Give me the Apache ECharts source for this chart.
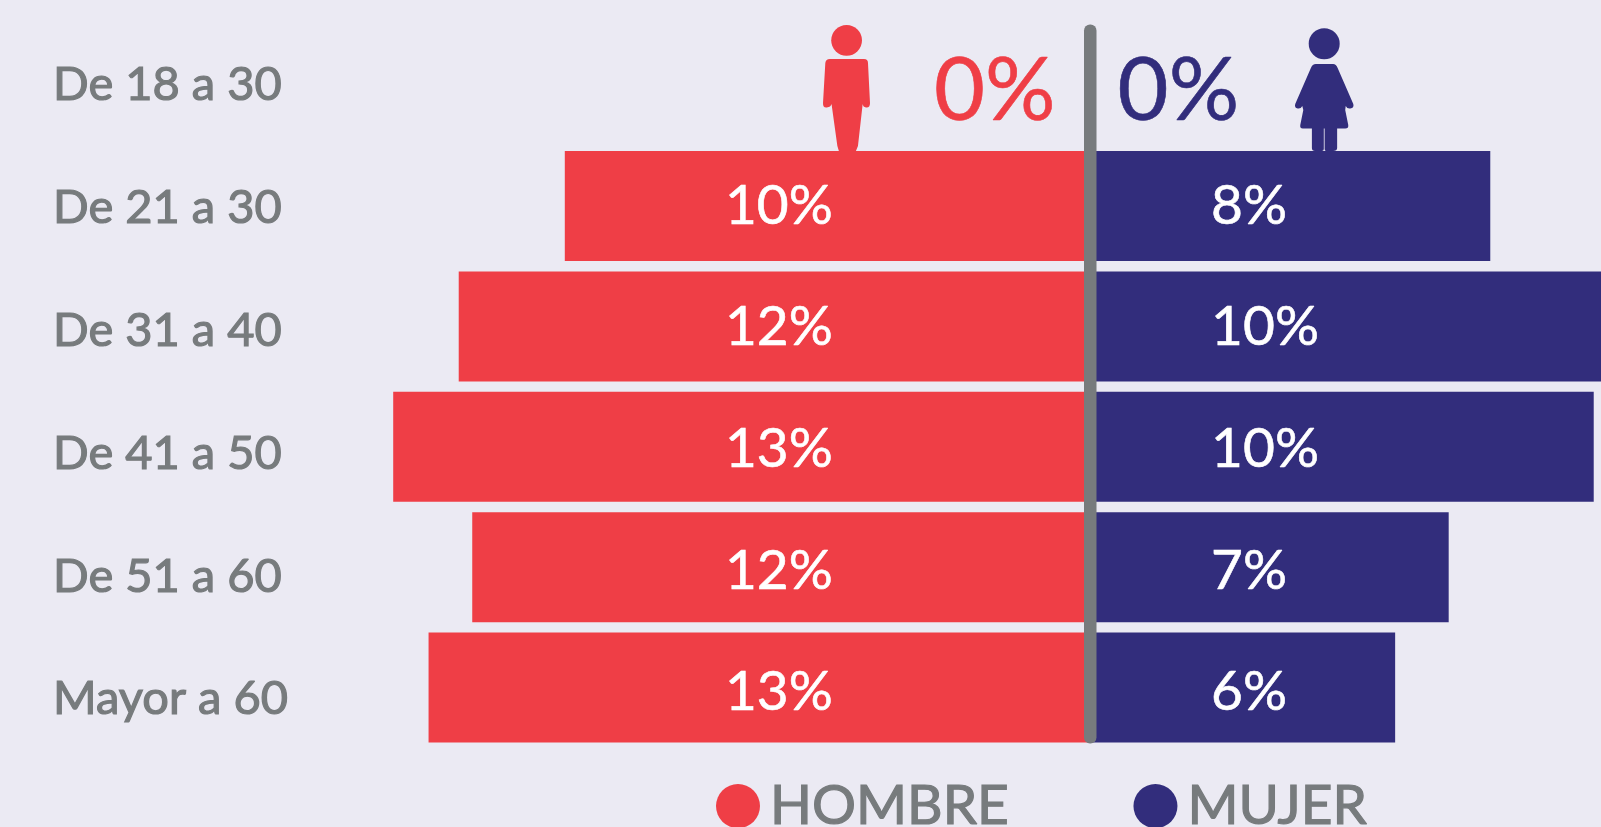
<!DOCTYPE html>
<html>
<head>
<meta charset="utf-8">
<style>
  html, body { margin: 0; padding: 0; background: #ebeaf3; overflow: hidden; }
  #chart { width: 1601px; height: 827px; }
</style>
<script src="https://cdn.jsdelivr.net/npm/echarts@6/dist/echarts.min.js"></script>
</head>
<body>
<div id="chart"></div>
<script>
const categories = ['De 18 a 30', 'De 21 a 30', 'De 31 a 40', 'De 41 a 50', 'De 51 a 60', 'Mayor a 60'];
const hombre = [0, 10.1, 12.14, 13.4, 11.88, 12.72];
const mujer = [0, 7.7, 10.2, 9.69, 6.9, 5.87];

const RED = '#ef3e46';
const NAVY = '#322d7c';
const GREY = '#777b7d';
const FONT = 'Lato';

const MAN_PATH = 'M830 59 L864 59 Q868 59 868 63 L870 103 Q870 108 866 107.5 Q863 107 862.7 104 L858 146 L856 151 L839 151 L837.5 146 L831.7 104 Q831 107 827 107.5 Q823 108 823.2 103 L825.5 63 Q826 59 830 59 Z';
const WOMAN_PATH = 'M1316 64 L1333 64 Q1336 64 1337.5 68 L1353 104 Q1354 108 1350 108.5 Q1347 109 1345.5 106 L1345 110 L1348 125 Q1348.5 128.5 1345 128.5 L1337 128.5 L1337 148 Q1337 151 1333 151 L1326 151 Q1324.6 151 1324.6 149 L1324.6 128.5 L1323.8 128.5 L1323.8 149 Q1323.8 151 1322 151 L1315 151 Q1312 151 1312 148 L1312 128.5 L1303 128.5 Q1300 128.5 1300.5 125 L1303.5 110 L1302.5 106 Q1301 109 1298 108.5 Q1294.5 108 1295.5 104 L1311 68 Q1312.5 64 1316 64 Z';

// the percentages start at a fixed column, not at the bar's centre
const spot = (values, col, topCol, color) => values.map((v, i) => ({
  value: [i === 0 ? topCol : col, i, v],
  label: i === 0
    ? { color, fontSize: 88, align: 'center', offset: [0, 6], textBorderColor: color, textBorderWidth: 0.6 }
    : { offset: [0, -1.5 + 1.3 * i] }
}));

const labelSeries = (idx, values, col, topCol, color) => ({
  type: 'scatter',
  xAxisIndex: idx,
  yAxisIndex: idx,
  symbolSize: 1,
  itemStyle: { color: 'transparent', opacity: 1 },
  silent: true,
  z: 4,
  data: spot(values, col, topCol, color),
  label: {
    show: true,
    position: 'inside',
    align: 'left',
    color: '#fff',
    fontFamily: FONT,
    fontSize: 55,
    textBorderColor: '#fff',
    textBorderWidth: 0.6,
    formatter: (p) => Math.round(p.value[2]) + '%'
  }
});

const iconSeries = (pathData, box, color) => ({
  type: 'custom',
  coordinateSystem: 'none',
  silent: true,
  z: 3,
  data: [0],
  renderItem: () => ({
    type: 'path',
    shape: { pathData, layout: 'cover', x: box[0], y: box[1], width: box[2], height: box[3] },
    style: { fill: color }
  })
});

const chart = echarts.init(document.getElementById('chart'));
chart.setOption({
  backgroundColor: '#ebeaf3',
  animation: false,
  grid: [
    { left: 362, top: 25.4, width: 728, height: 722.4 },
    { left: 1090, top: 25.4, width: 511, height: 722.4 },
    // the row labels run on a slightly wider pitch than the bars
    { left: 53, top: 23.2, width: 1, height: 737.6 }
  ],
  xAxis: [
    { type: 'value', gridIndex: 0, min: 0, max: 14, inverse: true, show: false },
    { type: 'value', gridIndex: 1, min: 0, max: 9.83, show: false },
    { type: 'value', gridIndex: 2, show: false }
  ],
  yAxis: [
    { type: 'category', gridIndex: 0, data: categories, inverse: true, show: false },
    { type: 'category', gridIndex: 1, data: categories, inverse: true, show: false },
    {
      type: 'category', gridIndex: 2, data: categories, inverse: true, position: 'left',
      axisLine: { show: false, onZero: false }, axisTick: { show: false },
      axisLabel: { align: 'left', margin: 0, color: GREY, fontFamily: FONT, fontSize: 47, textBorderColor: GREY, textBorderWidth: 1.2 }
    }
  ],
  legend: {
    data: ['HOMBRE', 'MUJER'],
    left: 716,
    top: 778,
    padding: 0,
    itemWidth: 44,
    itemHeight: 44,
    itemGap: 124,
    icon: 'circle',
    textStyle: { color: GREY, fontFamily: FONT, fontSize: 55, padding: [0, 0, 0, 5], textBorderColor: GREY, textBorderWidth: 1.2 }
  },
  series: [
    { name: 'HOMBRE', type: 'bar', xAxisIndex: 0, yAxisIndex: 0, data: hombre, barWidth: 110, itemStyle: { color: RED } },
    { name: 'MUJER', type: 'bar', xAxisIndex: 1, yAxisIndex: 1, data: mujer, barWidth: 110, itemStyle: { color: NAVY } },
    labelSeries(0, hombre, 7.02, 1.83, RED),
    labelSeries(1, mujer, 2.33, 1.7, NAVY),
    iconSeries(MAN_PATH, [823, 59, 47, 92], RED),
    iconSeries(WOMAN_PATH, [1295, 64, 58.5, 87], NAVY)
  ],
  graphic: [
    // centre divider
    { type: 'rect', z: 10, shape: { x: 1084, y: 24.5, width: 12.5, height: 719, r: 6 }, style: { fill: GREY } },
    // heads
    { type: 'circle', z: 3, shape: { cx: 846.6, cy: 40.3, r: 15.4 }, style: { fill: RED } },
    { type: 'circle', z: 3, shape: { cx: 1324.2, cy: 43.7, r: 15.5 }, style: { fill: NAVY } }
  ]
});
</script>
</body>
</html>
